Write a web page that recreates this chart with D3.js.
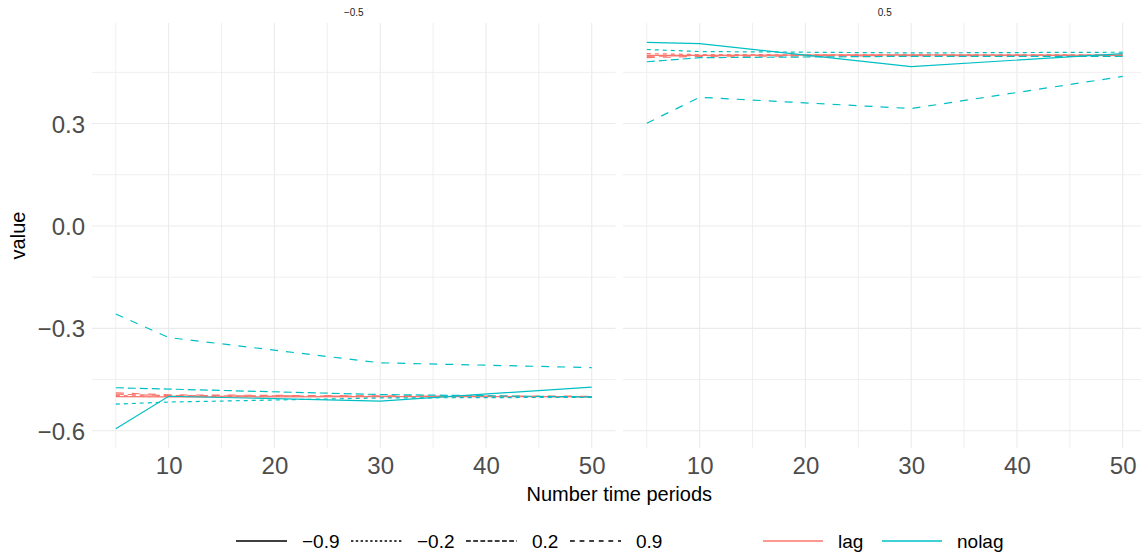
<!DOCTYPE html>
<html><head><meta charset="utf-8">
<script src="https://cdn.jsdelivr.net/npm/d3@7"></script>
<style>body{margin:0;background:#fff;} svg{display:block;font-family:"Liberation Sans",Arial,sans-serif;}</style>
</head><body>
<svg id="chart" width="1141" height="554"></svg>
<script>
// ---- data ----
const periods = [5, 10, 30, 50];
const facetKeys = ["-0.5", "0.5"];
const facetLabels = ["\u22120.5", "0.5"];
const rhoLevels = ["-0.9", "-0.2", "0.2", "0.9"];
const rhoLabels = ["\u22120.9", "\u22120.2", "0.2", "0.9"];
const methods = ["lag", "nolag"];
const xTicks = [10, 20, 30, 40, 50];
const yTicks = [-0.6, -0.3, 0.0, 0.3];
const yTickLabels = ["\u22120.6", "\u22120.3", "0.0", "0.3"];

// facet -0.5
const negLag_m09   = [-0.500, -0.501, -0.500, -0.500];
const negLag_m02   = [-0.497, -0.499, -0.500, -0.500];
const negLag_p02   = [-0.493, -0.497, -0.499, -0.500];
const negLag_p09   = [-0.489, -0.495, -0.498, -0.499];
const negNolag_m09 = [-0.594, -0.499, -0.513, -0.472];
const negNolag_m02 = [-0.522, -0.516, -0.504, -0.502];
const negNolag_p02 = [-0.474, -0.478, -0.494, -0.501];
const negNolag_p09 = [-0.258, -0.327, -0.401, -0.415];
// facet 0.5
const posLag_m09   = [0.500, 0.500, 0.501, 0.500];
const posLag_m02   = [0.505, 0.502, 0.501, 0.501];
const posLag_p02   = [0.497, 0.499, 0.500, 0.500];
const posLag_p09   = [0.493, 0.497, 0.499, 0.500];
const posNolag_m09 = [0.538, 0.534, 0.467, 0.505];
const posNolag_m02 = [0.517, 0.511, 0.507, 0.509];
const posNolag_p02 = [0.481, 0.493, 0.497, 0.497];
const posNolag_p09 = [0.301, 0.377, 0.344, 0.438];

const seriesTable = {
  "-0.5": { lag: [negLag_m09, negLag_m02, negLag_p02, negLag_p09],
            nolag: [negNolag_m09, negNolag_m02, negNolag_p02, negNolag_p09] },
  "0.5":  { lag: [posLag_m09, posLag_m02, posLag_p02, posLag_p09],
            nolag: [posNolag_m09, posNolag_m02, posNolag_p02, posNolag_p09] }
};

// ---- styles ----
const colour = d3.scaleOrdinal().domain(methods).range(["#F8766D", "#00BFC4"]);
const plotDash = d3.scaleOrdinal().domain(rhoLevels).range(["none", "4,4", "8,4", "8,8"]);
const keyDash = d3.scaleOrdinal().domain(rhoLevels).range(["none", "2.4,2.4", "4.8,2.4", "4.8,4.8"]);
const gridCol = "#EBEBEB";

const svg = d3.select("#chart");
const panelTop = 23, panelBottom = 448;
const panels = [[92, 615.5], [623, 1146.5]];

const allVals = [];
facetKeys.forEach(f => methods.forEach(m => seriesTable[f][m].forEach(a => allVals.push(...a))));
const yExt = d3.extent(allVals), yPad = (yExt[1] - yExt[0]) * 0.05;
const xExt = d3.extent(periods), xPad = (xExt[1] - xExt[0]) * 0.05;
const y = d3.scaleLinear().domain([yExt[0] - yPad, yExt[1] + yPad]).range([panelBottom, panelTop]);

const yMinor = [-0.45, -0.15, 0.15, 0.45];
const xMinor = [5, 15, 25, 35, 45];

facetKeys.forEach((f, i) => {
  const x = d3.scaleLinear().domain([xExt[0] - xPad, xExt[1] + xPad]).range(panels[i]);
  const g = svg.append("g");
  // grid
  g.selectAll(".ym").data(yMinor).join("line")
    .attr("x1", panels[i][0]).attr("x2", panels[i][1])
    .attr("y1", d => y(d)).attr("y2", d => y(d))
    .attr("stroke", gridCol).attr("stroke-width", 0.8);
  g.selectAll(".xm").data(xMinor).join("line")
    .attr("y1", panelTop).attr("y2", panelBottom)
    .attr("x1", d => x(d)).attr("x2", d => x(d))
    .attr("stroke", gridCol).attr("stroke-width", 0.8);
  g.selectAll(".yM").data(yTicks).join("line")
    .attr("x1", panels[i][0]).attr("x2", panels[i][1])
    .attr("y1", d => y(d)).attr("y2", d => y(d))
    .attr("stroke", gridCol).attr("stroke-width", 1.1);
  g.selectAll(".xM").data(xTicks).join("line")
    .attr("y1", panelTop).attr("y2", panelBottom)
    .attr("x1", d => x(d)).attr("x2", d => x(d))
    .attr("stroke", gridCol).attr("stroke-width", 1.1);

  // lines
  const line = d3.line().x((d, k) => x(periods[k])).y(d => y(d));
  methods.forEach(m => {
    seriesTable[f][m].forEach((vals, r) => {
      g.append("path").attr("d", line(vals))
        .attr("fill", "none").attr("stroke", colour(m))
        .attr("stroke-width", 1.2)
        .attr("stroke-dasharray", plotDash(rhoLevels[r]));
    });
  });

  // x axis labels
  const xa = d3.axisBottom(x).tickValues(xTicks).tickSize(0).tickPadding(0);
  const ax = svg.append("g").attr("transform", `translate(0,${panelBottom})`).call(xa);
  ax.select(".domain").remove();
  ax.selectAll("text").attr("font-size", 24).attr("fill", "#4D4D4D")
    .attr("font-family", "Liberation Sans, Arial, sans-serif").attr("dy", 0).attr("y", 26);

  // facet label
  svg.append("text").attr("x", (panels[i][0] + panels[i][1]) / 2).attr("y", 16)
    .attr("text-anchor", "middle").attr("font-size", 10).attr("fill", "#1A1A1A")
    .text(facetLabels[i]);
});

// y axis labels
const ya = d3.axisLeft(y).tickValues(yTicks).tickFormat((d, i) => yTickLabels[i]).tickSize(0).tickPadding(0);
const ay = svg.append("g").attr("transform", "translate(85,0)").call(ya);
ay.select(".domain").remove();
ay.selectAll("text").attr("font-size", 24).attr("fill", "#4D4D4D")
  .attr("font-family", "Liberation Sans, Arial, sans-serif").attr("dy", "0.36em").attr("x", 0);

// axis titles
svg.append("text").attr("x", (panels[0][0] + panels[1][1]) / 2).attr("y", 501)
  .attr("text-anchor", "middle").attr("font-size", 20).attr("fill", "#000").text("Number time periods");
svg.append("text").attr("transform", `translate(25,${(panelTop + panelBottom) / 2}) rotate(-90)`)
  .attr("text-anchor", "middle").attr("font-size", 20).attr("fill", "#000").text("value");

// legend
const legY = 541;
const ltKeyX = [236, 351, 466, 570];
const lg = svg.append("g");
rhoLevels.forEach((r, i) => {
  lg.append("line").attr("x1", ltKeyX[i]).attr("x2", ltKeyX[i] + 51)
    .attr("y1", legY).attr("y2", legY).attr("stroke", "#000").attr("stroke-width", 1.3)
    .attr("stroke-dasharray", keyDash(r));
  lg.append("text").attr("x", ltKeyX[i] + 66).attr("y", legY + 7)
    .attr("font-size", 19).attr("fill", "#000").text(rhoLabels[i]);
});
const colKeyX = [763, 882];
methods.forEach((m, i) => {
  lg.append("line").attr("x1", colKeyX[i]).attr("x2", colKeyX[i] + 60)
    .attr("y1", legY).attr("y2", legY).attr("stroke", colour(m)).attr("stroke-width", 1.3);
  lg.append("text").attr("x", colKeyX[i] + 75).attr("y", legY + 7)
    .attr("font-size", 19).attr("fill", "#000").text(m);
});
</script>
</body></html>
